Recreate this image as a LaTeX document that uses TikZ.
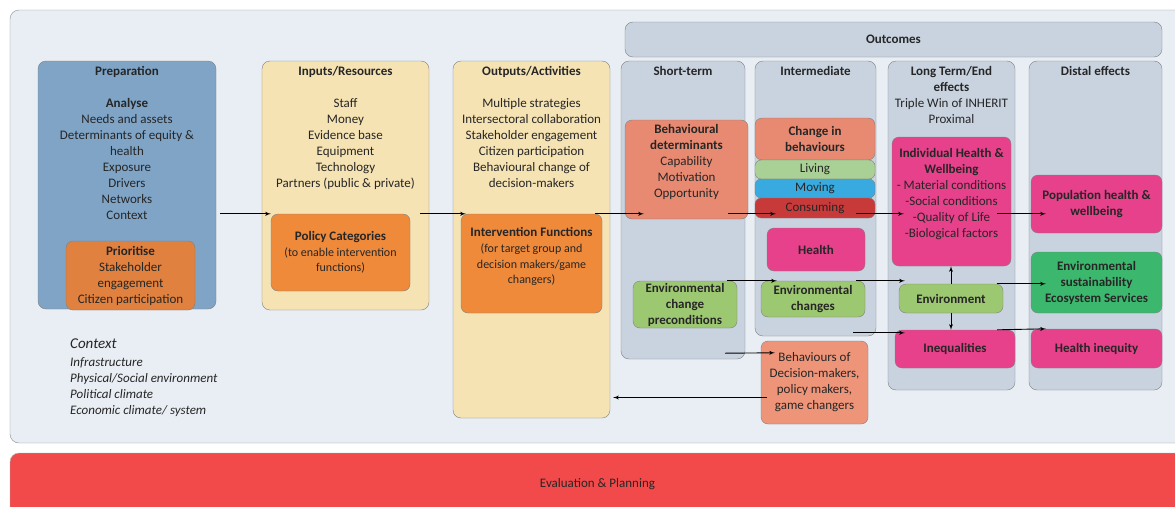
\documentclass[tikz,border=0pt]{standalone}
\usepackage{fontspec}
\setmainfont{Carlito}
\usepackage{tikz}
\usetikzlibrary{shapes,arrows,calc,positioning}

\definecolor{panelbg}{HTML}{E9EEF4}
\definecolor{evalred}{HTML}{F24A4A}
\definecolor{colgrey}{HTML}{C9D3DF}
\definecolor{prepblue}{HTML}{7FA4C6}
\definecolor{inpyellow}{HTML}{F5E3B4}
\definecolor{prioorange}{HTML}{E0813F}
\definecolor{polorange}{HTML}{EF8A3A}
\definecolor{salmon}{HTML}{E88A72}
\definecolor{bdmsalmon}{HTML}{EE9478}
\definecolor{envgreen}{HTML}{9DC872}
\definecolor{livgreen}{HTML}{A9D196}
\definecolor{movblue}{HTML}{38AAE0}
\definecolor{consred}{HTML}{C83A3A}
\definecolor{hotpink}{HTML}{E6418A}
\definecolor{esgreen}{HTML}{3CB86E}

\begin{document}
\begin{tikzpicture}[x=1pt, y=-1pt, font=\fontsize{13}{16}\selectfont, text=black!85]
        \tikzstyle{col} = [rectangle, draw=black!50, fill=colgrey, rounded corners=8pt, inner sep=0pt]
        \tikzstyle{box} = [rectangle, draw=black!50, rounded corners=7pt, inner sep=0pt, align=center]
        \tikzstyle{boldbox} = [box, font=\fontsize{13}{16}\selectfont\bfseries]
        \tikzstyle{txt} = [align=center, inner sep=0pt, anchor=north]
        \tikzset{flow/.style={draw, line width=0.9pt, color=black, -latex'}}

        \useasboundingbox (0,0) rectangle (1175,506);

        % background panel and evaluation bar
        \node [rectangle, draw=black!45, fill=panelbg, rounded corners=9pt, minimum width=1175pt, minimum height=433pt] (panel) at (597.5,226.5) {};
        \node [rectangle, draw=black!30, fill=evalred, rounded corners=9pt, minimum width=1175pt, minimum height=63pt, font=\fontsize{13}{15}\selectfont] (eval) at (597.5,484.5) {Evaluation \& Planning};

        % columns
        \node [col, minimum width=537pt, minimum height=35pt, font=\fontsize{13}{16}\selectfont\bfseries] (outc) at (893.5,39.5) {Outcomes};
        \node [col, fill=prepblue, minimum width=178pt, minimum height=248pt] (prep) at (127,185) {};
        \node [col, fill=inpyellow, minimum width=167pt, minimum height=249pt] (inp) at (345.5,185.5) {};
        \node [col, fill=inpyellow, minimum width=157pt, minimum height=357pt] (outp) at (531.5,239.5) {};
        \node [col, minimum width=124pt, minimum height=298pt] (st) at (683,210) {};
        \node [col, minimum width=121pt, minimum height=275pt] (im) at (815.5,198.5) {};
        \node [col, minimum width=127pt, minimum height=329pt] (lt) at (951.5,225.5) {};
        \node [col, minimum width=133pt, minimum height=329pt] (de) at (1095.5,225.5) {};

        \node [txt, below=5pt of prep.north] (prep-t) {\textbf{Preparation}\\[16pt]\textbf{Analyse}\\Needs and assets\\Determinants of equity \&\\health\\Exposure\\Drivers\\Networks\\Context};
        \node [txt, below=5pt of inp.north] (inp-t) {\textbf{Inputs/Resources}\\[16pt]Staff\\Money\\Evidence base\\Equipment\\Technology\\Partners (public \& private)};
        \node [txt, below=5pt of outp.north] (outp-t) {\textbf{Outputs/Activities}\\[16pt]Multiple strategies\\Intersectoral collaboration\\Stakeholder engagement\\Citizen participation\\Behavioural change of\\decision-makers};
        \node [txt, below=5pt of st.north, font=\fontsize{13}{16}\selectfont\bfseries] (st-t) {Short-term};
        \node [txt, below=5pt of im.north, font=\fontsize{13}{16}\selectfont\bfseries] (im-t) {Intermediate};
        \node [txt, below=5pt of lt.north] (lt-t) {\textbf{Long Term/End}\\\textbf{effects}\\Triple Win of INHERIT\\Proximal};
        \node [txt, below=5pt of de.north, font=\fontsize{13}{16}\selectfont\bfseries] (de-t) {Distal effects};

        % inner boxes
        \node [box, fill=prioorange, minimum width=129pt, minimum height=69pt] (prio) at (130.5,275.5) {\textbf{Prioritise}\\Stakeholder\\engagement\\Citizen participation};
        \node [box, fill=polorange, minimum width=139pt, minimum height=77pt, font=\fontsize{12}{15.5}\selectfont] (pol) at (340.5,252.5) {{\fontsize{13}{15.5}\selectfont\bfseries Policy Categories}\\(to enable intervention\\functions)};
        \node [box, fill=polorange, minimum width=141pt, minimum height=99pt] (ifn) at (531.5,263.5) {};
        \node [txt, below=13.5pt of ifn.north, font=\fontsize{12}{15.7}\selectfont] (ifn-t) {{\fontsize{13}{15.7}\selectfont\bfseries Intervention Functions}\\(for target group and\\decision makers/game\\changers)};

        \node [box, fill=salmon, minimum width=123pt, minimum height=99pt] (bd) at (686.5,169.5) {};
        \node [txt, below=4.5pt of bd.north] (bd-t) {\textbf{Behavioural}\\\textbf{determinants}\\Capability\\Motivation\\Opportunity};
        \node [boldbox, fill=envgreen, minimum width=104pt, minimum height=47pt] (ecp) at (685,304.5) {Environmental\\change\\preconditions};

        \node [boldbox, fill=salmon, minimum width=120pt, minimum height=42pt] (cib) at (815,139) {Change in\\behaviours};
        \node [box, fill=livgreen, rounded corners=6pt, minimum width=120pt, minimum height=19pt] (liv) at (815,169.5) {Living};
        \node [box, fill=movblue, rounded corners=6pt, minimum width=120pt, minimum height=19pt] (mov) at (815,188.5) {Moving};
        \node [box, fill=consred, rounded corners=6pt, minimum width=120pt, minimum height=20pt] (cons) at (815,208) {Consuming};
        \node [boldbox, fill=hotpink, minimum width=98pt, minimum height=43pt] (hlth) at (816,249.5) {Health};
        \node [boldbox, fill=envgreen, minimum width=104pt, minimum height=36pt] (ech) at (813,299) {Environmental\\changes};
        \node [box, fill=bdmsalmon, minimum width=107pt, minimum height=83pt] (bdm) at (814.5,382.5) {Behaviours of\\Decision-makers,\\policy makers,\\game changers};

        \node [box, fill=hotpink, minimum width=119pt, minimum height=129pt] (ihw) at (951.5,201.5) {};
        \node [txt, below=11.5pt of ihw.north] (ihw-t) {\textbf{Individual Health \&}\\\textbf{Wellbeing}\\- Material conditions\\-Social conditions\\-Quality of Life\\-Biological factors};
        \node [boldbox, fill=envgreen, minimum width=104pt, minimum height=29pt] (env) at (951,298.5) {Environment};
        \node [boldbox, fill=hotpink, minimum width=120pt, minimum height=38pt] (ineq) at (955,349) {Inequalities};

        \node [boldbox, fill=hotpink, minimum width=131pt, minimum height=58pt] (pop) at (1096.5,204) {Population health \&\\wellbeing};
        \node [boldbox, fill=esgreen, minimum width=131pt, minimum height=61pt] (esus) at (1096.5,282.5) {Environmental\\sustainability\\Ecosystem Services};
        \node [boldbox, fill=hotpink, minimum width=131pt, minimum height=39pt] (hin) at (1096.5,348.5) {Health inequity};

        % context
        \node [anchor=north west, align=left, inner sep=0pt, font=\fontsize{13}{16}\selectfont\itshape] (ctx) at (70,339) {{\fontsize{15}{18}\selectfont Context}\\[2pt]Infrastructure\\Physical/Social environment\\Political climate\\Economic climate/ system};

        % connectors
        \path [flow] ([xshift=4pt]prep.east |- pol.north) -- (pol.north west);
        \path [flow] ([xshift=-9pt]inp.east |- pol.north) -- ([xshift=5pt]ifn.north west);
        \path [flow] ([xshift=-7pt]ifn.north east) -- ([xshift=19pt]bd.west |- ifn.north);
        \path [flow] ([xshift=-20pt]bd.east |- ifn.north) -- ([xshift=21pt]cons.west |- ifn.north);
        \path [flow] ([xshift=-19pt]cons.east |- ifn.north) -- ([xshift=12pt]ihw.west |- ifn.north);
        \path [flow] ([xshift=-14pt]ihw.east |- ifn.north) -- ([xshift=15pt]pop.west |- ifn.north);
        \path [flow] ([xshift=-10pt]ecp.north east) -- ([xshift=16pt]ech.north west);
        \path [flow] ([xshift=-9pt]ech.north east) -- ([xshift=6pt]env.west |- ech.north);
        \path [flow] ([xshift=-6pt]env.north east) -- ([xshift=15pt]esus.west |- env.north);
        \path [flow] (env.north) -- (env.north |- ihw.south);
        \path [flow] (env.south) -- (env.south |- ineq.north);
        \path [flow] ([xshift=-23pt,yshift=-3pt]im.east |- ineq.north) -- ([xshift=10pt,yshift=-3pt]ineq.north west);
        \path [flow] ([xshift=-18pt]ineq.north east) -- ([xshift=15pt]hin.north west);
        \path [flow] ([xshift=-20pt,yshift=6pt]st.south east) -- ([xshift=14pt,yshift=-12pt]bdm.north west);
        \coordinate (fb) at ([xshift=6pt,yshift=-15pt]bdm.west);
        \path [flow] (fb) -- ([xshift=3pt]outp.east |- fb);

    \end{tikzpicture}
\end{document}
